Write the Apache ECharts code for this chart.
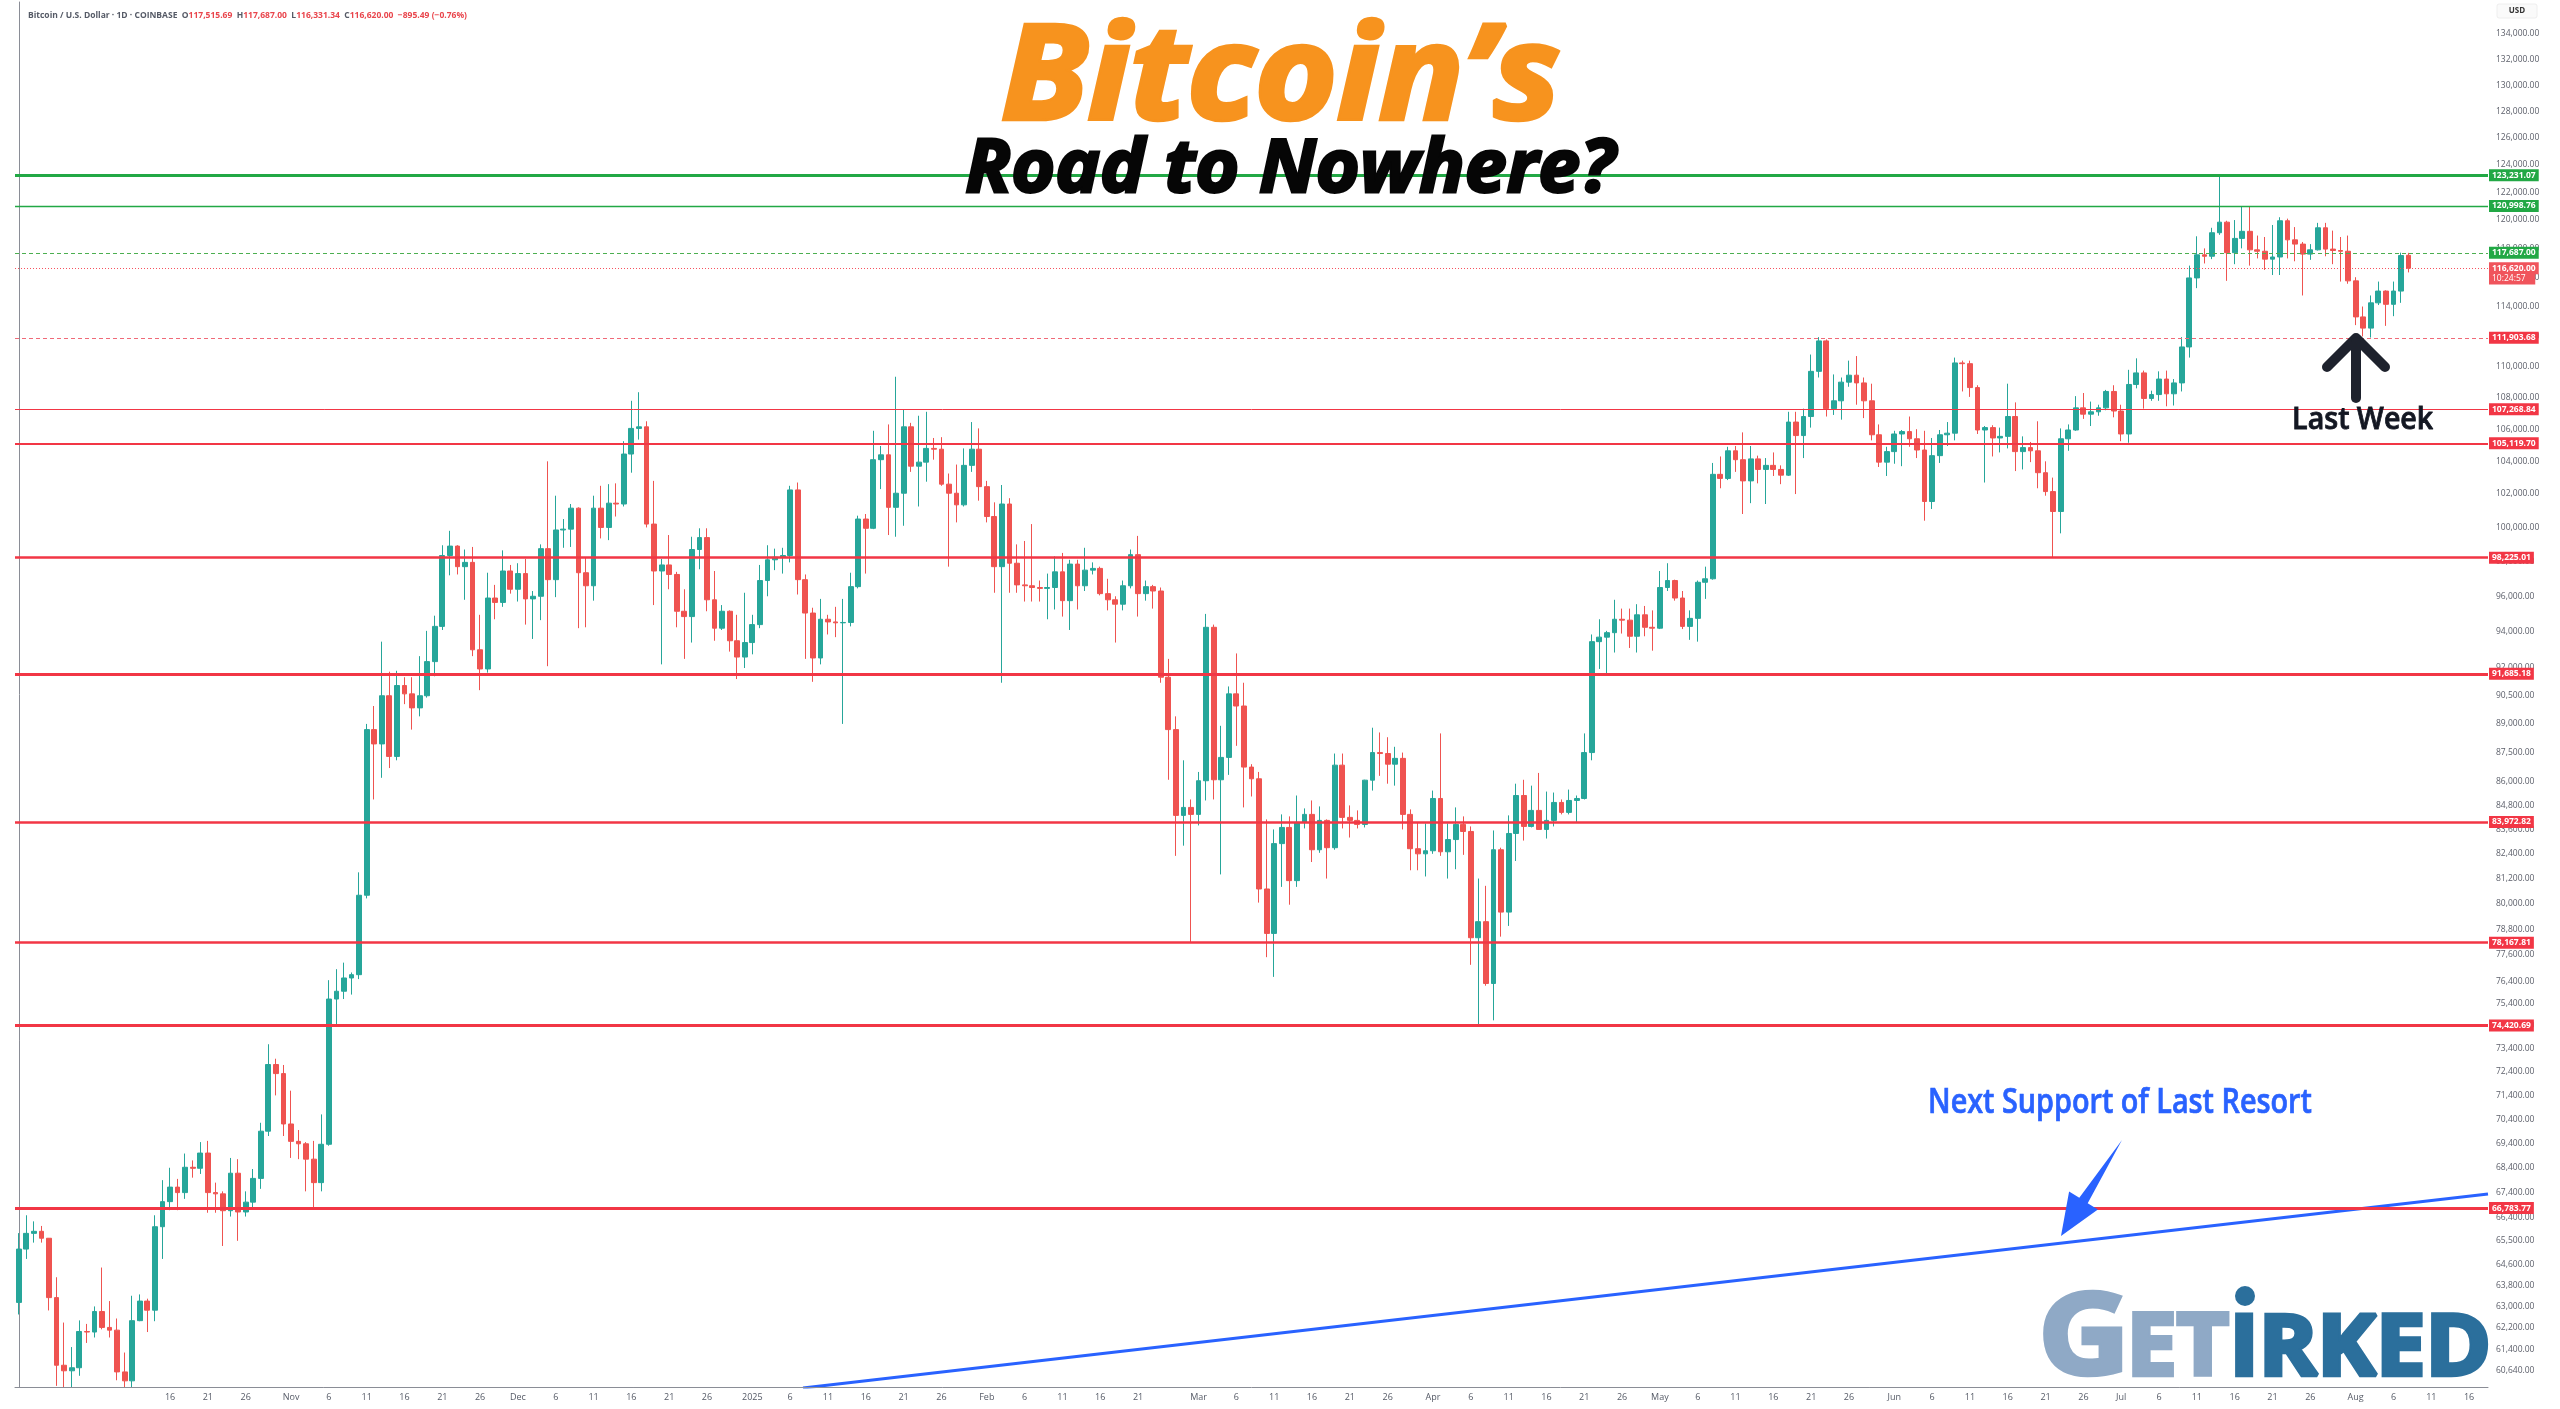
<!DOCTYPE html>
<html><head><meta charset="utf-8">
<script src="https://cdn.jsdelivr.net/npm/echarts@6/dist/echarts.min.js"></script>
<style>html,body{margin:0;padding:0;background:#fff}#c{width:2560px;height:1409px}</style>
</head><body><div id="c"></div>
<script>
// ---------------- DATA ----------------
const startDate = '2024-09-26';   // first daily candle (Coinbase BTC/USD, 1D)
const categoryCount = 327;        // days shown on the time axis (through 2025-08-18)

const opens = [
 63150,65180,65790,65870,65600,
 63330,60840,60640,60750,62070,62050,62810,62220,62120,60600,60280,62470,63200,62860,66050,67040,67620,67400,68420,68380,69000,67400,67350,66680,68180,66630,67020,67970,69900,72720,72330,
 70200,69480,69380,68750,67800,69360,75600,75950,76550,76700,80400,88700,87950,90500,87300,91050,90600,89850,90500,92350,94300,98350,98900,97700,97950,93000,91950,95900,95650,97450,
 96400,97300,95850,96000,98750,96950,99850,99900,101150,97350,96600,101150,100000,101450,101400,104450,106050,106150,100200,97450,97800,97250,95150,94850,98700,99400,95800,94200,95150,93500,92600,
 93400,94400,96900,98100,98250,98350,102250,96950,95050,92550,94700,94550,94500,94520,96550,100500,99950,104100,104400,101200,102050,106150,103700,103950,104800,104750,102600,102050,101350,103750,104750,
 102450,100650,97700,101400,97900,96650,96600,96500,96450,96500,97400,95750,97850,96600,97500,97600,96150,95800,95550,96600,98400,96150,96550,96300,91500,88700,84300,84700,
 84350,86050,94250,86100,87250,90600,89950,86750,86150,80700,78600,82900,83700,81100,83950,84350,82600,84050,82700,86850,84200,84050,83850,86080,87500,87450,86900,87200,84350,82650,82400,
 82550,85150,82500,83100,83850,83500,78400,79150,76300,82600,79600,83400,85300,83750,84550,83600,84050,84950,84450,85050,85150,87500,93450,93700,93950,94700,94650,93750,94950,94250,
 94200,96500,96900,95900,94300,94750,96800,97000,103200,102950,104650,104100,102800,104150,103500,103750,103500,103150,106450,105600,106800,109700,111700,107300,107800,109000,109450,108950,107800,105650,103950,
 104600,105700,105850,105400,104700,101550,104350,105650,105750,110250,110200,108650,105950,106100,105450,105550,106800,104600,104850,104650,103300,102150,100950,105400,105950,107350,106950,107100,107350,108400,
 107150,105700,108850,109600,107950,108200,109200,108250,108950,111300,115950,117550,117450,119100,119850,117700,118700,119200,117900,117800,117250,117400,119950,118600,118300,117600,117900,119450,117950,117850,117800,
 115750,113300,112550,114250,115050,114150,115050,117515.69
];
const highs = [
 65800,66500,66260,66080,65610,
 64100,62400,61500,62480,62350,63000,64470,63200,62550,61300,63400,63450,63290,66500,67900,68400,67950,68980,68700,69450,69500,67800,67450,68800,68750,67450,68350,70250,73600,72970,72700,
 71600,69950,69450,69500,70600,76450,76950,77250,76800,81500,89000,89950,93450,91800,91850,91500,91500,92650,94050,94900,98950,99800,98950,98700,98850,94950,97350,96650,98650,97800,
 97900,98150,96300,99000,104000,101900,100500,101400,101200,98250,101900,102500,102600,102650,105250,107800,108350,106500,102800,98150,99550,97400,96400,99450,99950,99950,97450,95500,95200,94950,96200,
 94950,97800,98950,98750,98800,102500,102700,97250,95350,95850,94950,95400,95850,97350,100700,100800,105900,104950,106300,109350,107250,106400,106850,107100,105450,105500,103250,103800,104800,106450,106050,
 102800,101500,102550,101750,99000,99200,100200,96900,97300,98300,98500,98100,98100,98800,97950,97700,97000,96000,96900,98700,99500,96900,96650,96500,92500,89400,87100,85100,
 86500,95000,94400,88900,91000,92800,91200,86900,86500,84100,83600,84350,84250,85300,84650,85050,84750,84100,87450,87450,84800,84550,86100,88800,88550,88300,87800,87500,84600,83950,83900,
 85550,88500,83900,84700,84250,83750,81200,80850,83550,82700,84300,85900,86100,85800,86450,85500,85450,85100,85600,85300,88500,93850,94700,94050,95800,95300,95300,95550,95450,95200,
 97450,97900,96950,96300,95200,96900,97700,103900,104300,104900,104950,105800,104950,104350,104200,104550,103750,107100,107100,107300,110800,111950,111800,109500,109300,110400,110700,109300,108900,106300,104900,
 105900,105950,106800,106000,105900,105450,105950,106450,110600,110400,110400,108800,106200,106250,106100,108900,107700,105550,105200,106500,104000,103000,106050,106300,108100,108300,107750,107550,108500,108800,
 107550,109800,110550,109750,108450,109700,109750,109200,111950,116800,118850,118000,119450,123231.07,119950,120000,120950,120950,118900,118800,119650,120200,120100,119500,118450,118300,119800,119800,119250,118800,118900,
 116000,114000,114750,115700,115100,115700,117700,117687.00
];
const lows = [
 62700,64800,65430,65430,62850,
 60100,59990,59900,60460,61650,61850,62150,61850,60300,58900,60050,62450,62050,62450,64800,66700,66700,67150,68000,68150,66600,66600,65300,66450,65500,66450,66800,67550,69700,71400,69700,
 68800,68750,67450,66800,67450,69300,74450,75600,75800,76500,80250,85100,86200,86700,87100,90050,88700,89400,90400,91550,94100,97200,97250,95800,92650,90800,91750,94700,95400,96150,
 95700,94400,93600,94650,92100,95950,98800,98850,94200,94250,95750,99350,99250,100650,101250,103300,105350,100000,95500,92200,96400,94250,92500,93400,97550,95150,93500,94100,92900,91400,92000,
 92750,94200,96000,97500,97300,97950,96100,92500,91250,92200,93850,93700,89000,94300,96450,97300,99900,102300,99550,99450,100100,103350,101250,102750,104100,102500,97700,100300,101250,103350,101600,
 100300,96200,91200,96200,96200,95700,95700,95700,94700,95250,94850,94100,95250,96300,97250,96050,95200,93400,95200,96450,94850,95750,95300,91200,86100,82300,82800,78200,
 83800,85050,85100,81400,86350,87850,84700,85250,80050,77500,76600,80800,79950,80800,83650,82000,82450,81200,82600,83650,83200,83650,83700,85550,86300,85900,85800,83600,81600,81600,81300,
 82400,82300,81200,81650,82350,77150,74450,76200,74650,78450,78950,82050,83050,83700,83600,83150,83750,84350,84350,83950,85100,87100,91950,91700,92850,93900,93100,92850,93750,92950,
 94150,96300,95750,94150,93550,93450,95850,96950,102350,102850,103350,100800,101450,102650,101400,103100,102600,103100,102000,104200,106100,109300,106800,106900,106600,108700,107550,106700,105300,103650,103100,
 103850,103700,104900,104200,100400,101100,103900,104950,105300,108400,108050,105700,102700,104300,104550,104800,103400,103500,103950,102350,101900,98250,99650,104650,105900,106650,106200,106850,107200,106750,
 105250,105150,108600,107300,107800,107800,107450,107500,108400,110600,115250,116950,117250,118950,115750,116900,118000,116800,117300,116500,116150,116150,117300,117100,114750,117200,117850,117450,116900,115700,115550,
 112750,112000,111920,114100,112700,113350,114250,116331.34
];
const closes = [
 65180,65790,65870,65600,63330,
 60840,60640,60750,62070,62050,62810,62220,62120,60600,60280,62470,63200,62860,66050,67040,67620,67400,68420,68380,69000,67400,67350,66680,68180,66630,67020,67970,69900,72720,72330,70200,
 69480,69380,68750,67800,69360,75600,75950,76550,76700,80400,88700,87950,90500,87300,91050,90600,89850,90500,92350,94300,98350,98900,97700,97950,93000,91950,95900,95650,97450,96400,
 97300,95850,96000,98750,96950,99850,99900,101150,97350,96600,101150,100000,101450,101400,104450,106050,106150,100200,97450,97800,97250,95150,94850,98700,99400,95800,94200,95150,93500,92600,93400,
 94400,96900,98100,98250,98350,102250,96950,95050,92550,94700,94550,94500,94520,96550,100500,99950,104100,104400,101200,102050,106150,103700,103950,104800,104750,102600,102050,101350,103750,104750,102450,
 100650,97700,101400,97900,96650,96600,96500,96450,96500,97400,95750,97850,96600,97500,97600,96150,95800,95550,96600,98400,96150,96550,96300,91500,88700,84300,84700,84350,
 86050,94250,86100,87250,90600,89950,86750,86150,80700,78600,82900,83700,81100,83950,84350,82600,84050,82700,86850,84200,84050,83850,86080,87500,87450,86900,87200,84350,82650,82400,82550,
 85150,82500,83100,83850,83500,78400,79150,76300,82600,79600,83400,85300,83750,84550,83600,84050,84950,84450,85050,85150,87500,93450,93700,93950,94700,94650,93750,94950,94250,94200,
 96500,96900,95900,94300,94750,96800,97000,103200,102950,104650,104100,102800,104150,103500,103750,103500,103150,106450,105600,106800,109700,111700,107300,107800,109000,109450,108950,107800,105650,103950,104600,
 105700,105850,105400,104700,101550,104350,105650,105750,110250,110200,108650,105950,106100,105450,105550,106800,104600,104850,104650,103300,102150,100950,105400,105950,107350,106950,107100,107350,108400,107150,
 105700,108850,109600,107950,108200,109200,108250,108950,111300,115950,117550,117450,119100,119850,117700,118700,119200,117900,117800,117250,117400,119950,118600,118300,117600,117900,119450,117950,117850,117800,115750,
 113300,112550,114250,115050,114150,115050,117500,116620.00
];

// horizontal price levels drawn on the chart (with their price-scale tags)
const levelPrices = [123231.07, 120998.76, 117687.00, 116620.00, 111903.68, 107268.84, 105119.70, 98225.01, 91685.18, 83972.82, 78167.81, 74420.69, 66783.77];
const countdownText = '10:24:57';
const countdownPrice = 115910; // sits directly under the last-price tag

// price-scale tick labels
const yTickValues = [134000,132000,130000,128000,126000,124000,122000,120000,118000,116000,114000,112000,110000,108000,106000,104000,102000,100000,98000,96000,94000,92000,90500,89000,87500,86000,84800,83600,82400,81200,80000,78800,77600,76400,75400,74400,73400,72400,71400,70400,69400,68400,67400,66400,65500,64600,63800,63000,62200,61400,60640];

// blue rising support trendline (day offset from startDate, price)
const trendDayIndex = [103.7, 326.5];
const trendPrices = [60024, 67344];

const headerParts = [['Bitcoin / U.S. Dollar · 1D · COINBASE  ','g'],['O','g'],['117,515.69','r'],['  H','g'],['117,687.00','r'],['  L','g'],['116,331.34','r'],['  C','g'],['116,620.00','r'],['  −895.49 (−0.76%)','r']];

// ---------------- BUILD ----------------
const categories = [];
{
  const t0 = Date.UTC(2024, 8, 26);
  for (let i = 0; i < categoryCount; i++) categories.push(new Date(t0 + i * 86400000).toISOString().slice(0, 10));
}
const ohlc = opens.map((o, i) => [o, closes[i], lows[i], highs[i]]);
const monthNames = ['Jan','Feb','Mar','Apr','May','Jun','Jul','Aug','Sep','Oct','Nov','Dec'];
function fmt2(v){ return v.toLocaleString('en-US', {minimumFractionDigits: 2, maximumFractionDigits: 2}); }

const GREEN = '#22a845', RED = '#f23645';
const levelStyles = [
  {c: GREEN, w: 3, t: 'solid', tag: GREEN},
  {c: GREEN, w: 1.3, t: 'solid', tag: GREEN},
  {c: '#4caf50', w: 1, t: [4, 3], tag: GREEN},
  {c: '#f7525f', w: 1, t: [1, 2], tag: '#f0545c'},
  {c: '#f06a78', w: 1, t: [4, 3], tag: RED},
  {c: RED, w: 1, t: 'solid', tag: RED},
  {c: RED, w: 2, t: 'solid', tag: RED},
  {c: RED, w: 2.5, t: 'solid', tag: RED},
  {c: RED, w: 3, t: 'solid', tag: RED},
  {c: RED, w: 2.5, t: 'solid', tag: RED},
  {c: RED, w: 2.5, t: 'solid', tag: RED},
  {c: RED, w: 3, t: 'solid', tag: RED},
  {c: RED, w: 3, t: 'solid', tag: RED}
];

const markData = [];
yTickValues.forEach(v => markData.push({
  yAxis: v,
  lineStyle: {color: 'rgba(0,0,0,0)', width: 1, opacity: 1},
  label: {show: true, position: 'end', distance: 8, formatter: fmt2(v), color: '#5d606b', fontSize: 8.5, fontFamily: 'Open Sans', opacity: 1}
}));
levelPrices.forEach((v, i) => {
  const s = levelStyles[i];
  markData.push({
    yAxis: v,
    lineStyle: {color: s.c, width: s.w, type: s.t, opacity: 1},
    label: {show: true, position: 'end', distance: 1, formatter: fmt2(v), color: '#fff', fontWeight: 'bold', fontSize: 8.5,
      fontFamily: 'Open Sans', backgroundColor: s.tag, padding: [2, 3, 1, 3], opacity: 1}
  });
});
markData.push({
  yAxis: countdownPrice,
  lineStyle: {color: 'rgba(0,0,0,0)', width: 1, opacity: 1},
  label: {show: true, position: 'end', distance: 1, formatter: countdownText + '   ', color: '#fff', fontSize: 8.5,
    fontFamily: 'Open Sans', backgroundColor: '#f0545c', padding: [1, 3, 2, 3], opacity: 1}
});

// text fitted into an ink box
const mctx = document.createElement('canvas').getContext('2d');
function fitText(text, font, box, style, z) {
  mctx.font = font; mctx.textBaseline = 'middle'; mctx.textAlign = 'left';
  const m = mctx.measureText(text);
  const inkW = m.actualBoundingBoxLeft + m.actualBoundingBoxRight;
  const inkH = m.actualBoundingBoxAscent + m.actualBoundingBoxDescent;
  const sx = (box[1] - box[0]) / inkW, sy = (box[3] - box[2]) / inkH;
  return {
    type: 'text', z: z || 100,
    x: box[0] + m.actualBoundingBoxLeft * sx, y: box[2] + m.actualBoundingBoxAscent * sy,
    scaleX: sx, scaleY: sy,
    style: Object.assign({text: text, font: font, x: 0, y: 0, textAlign: 'left', textVerticalAlign: 'middle', align: 'left', verticalAlign: 'middle'}, style)
  };
}

const LOGO_LIGHT = '#8fa9c6', LOGO_DARK = '#2b6f9c';
const graphics = [
  // the plot pane clips wicks that run below the price range (early-October lows)
  {type: 'rect', z: 50, shape: {x: 0, y: 1388, width: 160, height: 21}, style: {fill: '#ffffff'}},
  fitText('Bitcoin’s', 'italic bold 140px "Open Sans"', [1004, 1558, 19, 120],
    {fill: '#f7931e', stroke: '#f7931e', lineWidth: 5, lineJoin: 'round', shadowColor: 'rgba(0,0,0,0.55)', shadowBlur: 4, shadowOffsetX: 5, shadowOffsetY: 4}),
  fitText('Road to Nowhere?', 'italic bold 90px "Open Sans"', [967, 1618, 136, 193],
    {fill: '#060606', stroke: '#060606', lineWidth: 3.5, lineJoin: 'round', shadowColor: 'rgba(0,0,0,0.45)', shadowBlur: 4, shadowOffsetX: 4, shadowOffsetY: 4}),
  // Last Week annotation
  {type: 'polyline', z: 100, shape: {points: [[2327, 367], [2356, 338], [2385, 367]]},
    style: {stroke: '#1e222d', lineWidth: 10, lineCap: 'round', lineJoin: 'round', fill: null}},
  {type: 'line', z: 100, shape: {x1: 2356, y1: 342, x2: 2356, y2: 398},
    style: {stroke: '#1e222d', lineWidth: 10, lineCap: 'round'}},
  fitText('Last Week', '600 30px "Open Sans"', [2294, 2434, 406, 429], {fill: '#131722', stroke: '#131722', lineWidth: 0.8}),
  // Next support annotation
  fitText('Next Support of Last Resort', '600 30px "Open Sans"', [1930, 2312, 1086, 1121], {fill: '#2962ff', stroke: '#2962ff', lineWidth: 0.6}),
  {type: 'polygon', z: 100, shape: {points: [[2122, 1140], [2087.7, 1203.2], [2097.9, 1209.6], [2061, 1236], [2069.1, 1191.4], [2079.3, 1197.8]]},
    style: {fill: '#2962ff'}},
  // logo
  fitText('G', 'bold 130px "Open Sans"', [2045, 2120, 1292, 1375], {fill: LOGO_LIGHT, stroke: LOGO_LIGHT, lineWidth: 5, lineJoin: 'round'}, 90),
  fitText('ET', 'bold 95px "Open Sans"', [2134, 2228, 1314, 1375], {fill: LOGO_LIGHT, stroke: LOGO_LIGHT, lineWidth: 5, lineJoin: 'round'}, 90),
  fitText('IRKED', 'bold 95px "Open Sans"', [2237, 2486, 1314, 1375], {fill: LOGO_DARK, stroke: LOGO_DARK, lineWidth: 5, lineJoin: 'round'}, 90),
  {type: 'circle', z: 90, shape: {cx: 2245, cy: 1296, r: 10}, style: {fill: LOGO_DARK}},
  // USD box
  {type: 'rect', z: 100, shape: {x: 2497, y: 4, width: 40, height: 14, r: 2}, style: {fill: '#fafafa', stroke: '#eeeeee', lineWidth: 1}},
  {type: 'text', z: 101, x: 2517, y: 11, style: {text: 'USD', font: 'bold 8px "Open Sans"', fill: '#333', textAlign: 'center', textVerticalAlign: 'middle', align: 'center', verticalAlign: 'middle'}}
];

const chart = echarts.init(document.getElementById('c'), null, {renderer: 'canvas'});
chart.setOption({
  animation: false,
  backgroundColor: '#ffffff',
  title: {
    left: 23, top: 6,
    text: headerParts.map(p => '{' + p[1] + '|' + p[0] + '}').join(''),
    textStyle: {rich: {
      g: {color: '#555a66', fontSize: 8.5, fontFamily: 'Open Sans'},
      r: {color: '#e9454c', fontSize: 8.5, fontFamily: 'Open Sans'}
    }}
  },
  grid: {left: 15, right: 72, top: 2, bottom: 22, containLabel: false},
  xAxis: [{
    type: 'category', data: categories, boundaryGap: true, z: 60,
    axisLine: {show: true, lineStyle: {color: '#8a8d96', width: 1}},
    axisTick: {show: false}, splitLine: {show: false},
    axisLabel: {
      color: '#555a66', fontSize: 9, fontFamily: 'Open Sans', margin: 6,
      interval: (idx, val) => {
        if (val < '2024-10-16') return false;
        const p = val.split('-').map(Number);
        if (p[1] === 2 && p[2] === 26) return false;
        return [1, 6, 11, 16, 21, 26].indexOf(p[2]) >= 0;
      },
      formatter: val => {
        const p = val.split('-').map(Number);
        if (p[2] === 1) return p[1] === 1 ? String(p[0]) : monthNames[p[1] - 1];
        return String(p[2]);
      }
    }
  }, {
    type: 'value', min: -0.5, max: categoryCount - 0.5, show: false
  }],
  yAxis: {
    type: 'log', logBase: 10, min: 60060, max: 136568, position: 'right',
    axisLine: {show: true, lineStyle: {color: '#8a8d96', width: 1}},
    axisTick: {show: false}, axisLabel: {show: false}, splitLine: {show: false}
  },
  series: [{
    type: 'candlestick', name: 'BTCUSD', xAxisIndex: 0, yAxisIndex: 0,
    data: ohlc, barWidth: '70%', clip: true,
    itemStyle: {color: '#26a69a', color0: '#ef5350', borderColor: '#26a69a', borderColor0: '#ef5350', borderWidth: 1},
    markLine: {silent: true, symbol: ['none', 'none'], animation: false, precision: 2, data: markData}
  }, {
    type: 'line', name: 'support', xAxisIndex: 1, yAxisIndex: 0, z: 3,
    data: trendDayIndex.map((d, i) => [d, trendPrices[i]]),
    showSymbol: false, symbol: 'none', clip: true,
    lineStyle: {color: '#2962ff', width: 3}
  }],
  graphic: {elements: graphics}
});
</script>
</body></html>
